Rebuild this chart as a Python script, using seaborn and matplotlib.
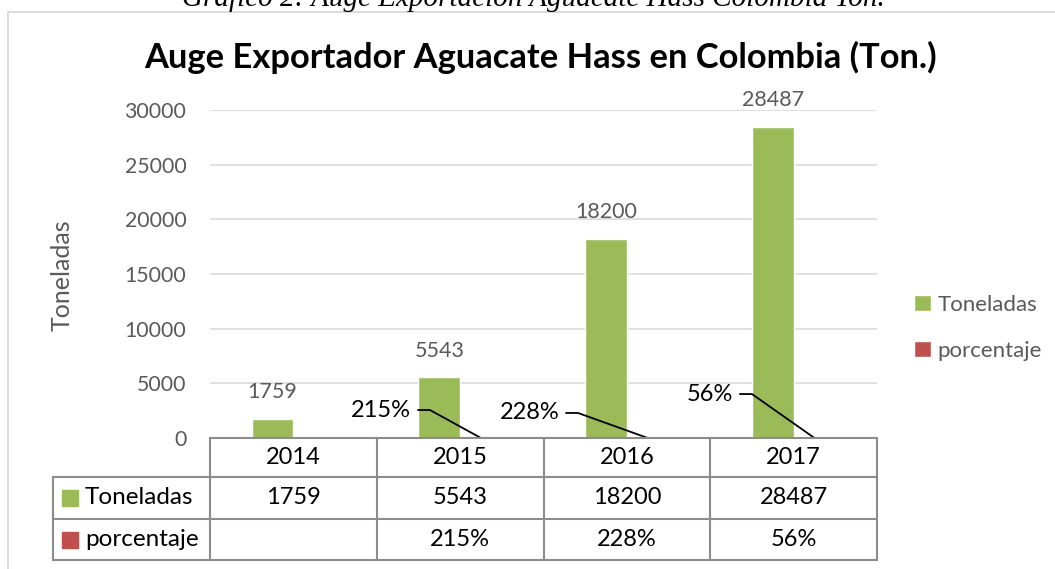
import numpy as np
import pandas as pd
import matplotlib.pyplot as plt
import seaborn as sns
from matplotlib.patches import Rectangle
from matplotlib.lines import Line2D

# Datos del grafico
years = ["2014", "2015", "2016", "2017"]
toneladas = [1759, 5543, 18200, 28487]
porcentaje = [np.nan, 2.15, 2.28, 0.56]
series = ["Toneladas", "porcentaje"]
yticks = [0, 5000, 10000, 15000, 20000, 25000, 30000]

titulo = "Auge Exportador Aguacate Hass en Colombia (Ton.)"
caption = "Gráfico 2: Auge Exportación Aguacate Hass Colombia Ton."

df = pd.DataFrame({
    "year": years * 2,
    "valor": toneladas + porcentaje,
    "serie": [series[0]] * 4 + [series[1]] * 4,
})

verde = "#9BBB59"
rojo = "#C0504D"
gris = "#595959"

sns.set_theme(style="white")
plt.rcParams["font.family"] = ["Lato", "DejaVu Sans"]

W, H = 1055, 569
fig = plt.figure(figsize=(W / 100, H / 100), dpi=100)


def fx(x):
    return x / W


def fy(y):
    return 1 - y / H


# area del grafico en pixeles
L, R, T, B = 210, 877, 110, 438
ax = fig.add_axes([fx(L), fy(B), fx(R) - fx(L), fy(T) - fy(B)])

sns.barplot(data=df, x="year", y="valor", hue="serie", palette=[verde, rojo],
            width=0.5, ax=ax, saturation=1)
ax.set_xlim(-0.5, 3.5)
ax.set_ylim(0, 30000)
ax.set_yticks(yticks)
ax.tick_params(axis="y", length=0, pad=17, labelsize=15.3, labelcolor=gris)
ax.set_xticks([])
ax.set_xlabel("")
ax.set_ylabel("")
ax.grid(axis="y", color="#D9D9D9", lw=1.2)
ax.set_axisbelow(True)
for s in ax.spines.values():
    s.set_visible(False)

# etiquetas de toneladas
ax.bar_label(ax.containers[0], labels=[str(v) for v in toneladas], padding=12,
             fontsize=15.5, color=gris)

# etiquetas de porcentaje con lineas guia (posicion de la serie porcentaje)
pct_offsets = [None, (-0.378, -0.306, 2560), (-0.49, -0.418, 2290), (-0.447, -0.375, 4020)]
for bar, v, off in zip(ax.containers[0], porcentaje, pct_offsets):
    if off is None or np.isnan(v):
        continue
    xb = bar.get_x() + bar.get_width() * 1.5
    ax.plot([xb + off[0], xb + off[1], xb], [off[2], off[2], 0], color="black",
            lw=1.3, clip_on=False)
    ax.text(xb + off[0] - 0.04, off[2], f"{v:.0%}", ha="right", va="center",
            fontsize=17, color="black", clip_on=False)

# leyenda
h, l = ax.get_legend_handles_labels()
ax.legend(h, l, loc="upper left", bbox_to_anchor=(fx(914), fy(295)),
          bbox_transform=fig.transFigure, frameon=False, fontsize=16,
          labelcolor=gris, handlelength=0.75, handleheight=0.75,
          handletextpad=0.3, labelspacing=1.15, borderpad=0, borderaxespad=0)

# tabla de datos
cols = np.linspace(L, R, 5)
rows = [438, 477, 519, 560]
lc = "#8C8C8C"


def line(x0, y0, x1, y1):
    fig.add_artist(Line2D([fx(x0), fx(x1)], [fy(y0), fy(y1)], color=lc, lw=1.5,
                          transform=fig.transFigure))


for y in rows:
    line(L if y == rows[0] else 53, y, R, y)
for x in cols:
    line(x, rows[0], x, rows[-1])
line(53, rows[1], 53, rows[-1])

for i, yr in enumerate(years):
    cx = (cols[i] + cols[i + 1]) / 2
    fig.text(fx(cx), fy((rows[0] + rows[1]) / 2), yr, ha="center", va="center",
             fontsize=17, color="black")
    fig.text(fx(cx), fy((rows[1] + rows[2]) / 2), str(toneladas[i]), ha="center",
             va="center", fontsize=17, color="black")
    if not np.isnan(porcentaje[i]):
        fig.text(fx(cx), fy((rows[2] + rows[3]) / 2), f"{porcentaje[i]:.0%}",
                 ha="center", va="center", fontsize=17, color="black")

for j, (nombre, col) in enumerate(zip(series, [verde, rojo])):
    yc = (rows[j + 1] + rows[j + 2]) / 2
    fig.add_artist(Rectangle((fx(62), fy(yc + 8)), fx(16), 16 / H, color=col,
                             transform=fig.transFigure))
    fig.text(fx(85), fy(yc), nombre, ha="left", va="center", fontsize=17.5,
             color="black")

# titulo, eje y, marco
fig.text(fx(540), fy(57), titulo, ha="center", va="center", fontsize=24.8,
         fontweight="bold", color="black")
fig.text(fx(62), fy(275), "Toneladas", rotation=90, ha="center", va="center",
         fontsize=18, color=gris)
fig.add_artist(Rectangle((fx(8), fy(580)), fx(1100), 568 / H, fill=False,
                         edgecolor="#D9D9D9", lw=1.3, transform=fig.transFigure))
fig.text(fx(533), fy(6), caption, ha="center", va="baseline", fontsize=21,
         family="Liberation Serif", style="italic", color="black")

fig.savefig("out.png", dpi=100)
